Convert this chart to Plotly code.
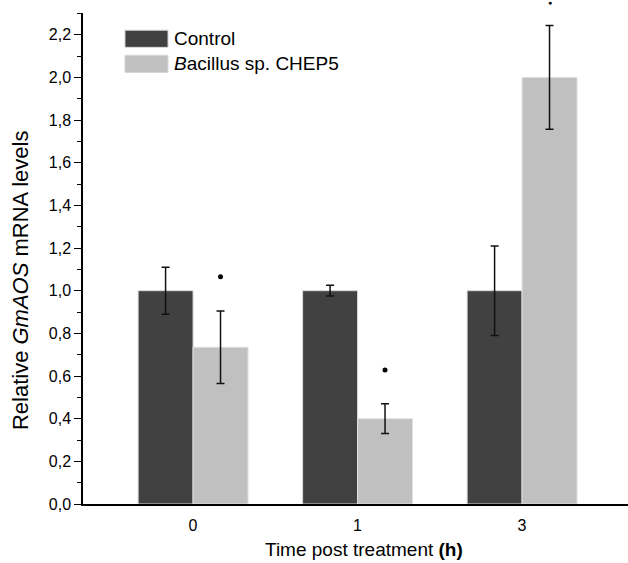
import plotly.graph_objects as go

categories = ["0", "1", "3"]
control = [1.0, 1.0, 1.0]
control_err = [0.11, 0.025, 0.21]
bacillus = [0.735, 0.40, 2.0]
bacillus_err = [0.17, 0.07, 0.243]
sig_y = [1.066, 0.628, 2.353]
y_ticks = [0.0, 0.2, 0.4, 0.6, 0.8, 1.0, 1.2, 1.4, 1.6, 1.8, 2.0, 2.2]
y_tick_labels = [f"{v:.1f}".replace(".", ",") for v in y_ticks]

Y_MAX = 2.302
BW = 0.334
xs = list(range(len(categories)))
FONT = "Arial, Liberation Sans, sans-serif"

fig = go.Figure()
fig.add_trace(go.Bar(
    x=xs, y=control, width=BW, offset=-BW, name="Control",
    marker=dict(color="#414141", line=dict(color="#d8d8d8", width=1)),
    error_y=dict(type="data", array=control_err, color="#111111", thickness=1.5, width=4),
    showlegend=False,
))
fig.add_trace(go.Bar(
    x=xs, y=bacillus, width=BW, offset=0, name="Bacillus sp. CHEP5",
    marker=dict(color="#c0c0c0", line=dict(color="#e0e0e0", width=1)),
    error_y=dict(type="data", array=bacillus_err, color="#111111", thickness=1.5, width=4),
    showlegend=False,
))
# significance dots above the Bacillus bars
in_x = [x + BW / 2 for x, v in zip(xs, sig_y) if v <= Y_MAX]
in_y = [v for v in sig_y if v <= Y_MAX]
fig.add_trace(go.Scatter(
    x=in_x, y=in_y, mode="markers",
    marker=dict(color="black", size=5), cliponaxis=False, showlegend=False,
))
for x, v in zip(xs, sig_y):
    if v > Y_MAX:  # beyond the axis top: plotly hides such scatter points
        fig.add_annotation(x=x + BW / 2, xref="x", y=v / Y_MAX, yref="y domain",
                           text="●", showarrow=False, xanchor="center", yanchor="middle",
                           font=dict(size=7, color="black"))

# legend drawn manually (large swatches as in reference)
legend_items = [("Control", "#414141"), ("<i>B</i>acillus sp. CHEP5", "#c0c0c0")]
for i, (label, col) in enumerate(legend_items):
    y1 = 0.965 - i * 0.051
    fig.add_shape(type="rect", xref="paper", yref="paper",
                  x0=0.077, x1=0.156, y0=y1 - 0.035, y1=y1,
                  fillcolor=col, line=dict(color="#d8d8d8", width=1))
    fig.add_annotation(xref="paper", yref="paper", x=0.163, y=y1 - 0.0175,
                       text=label, showarrow=False, xanchor="left", yanchor="middle",
                       font=dict(family=FONT, size=19, color="black"))

# axis titles as annotations for exact placement
fig.add_annotation(xref="paper", yref="paper", x=-0.1156, y=0.456, textangle=-90,
                   text="Relative <i>GmAOS</i> mRNA levels", showarrow=False,
                   xanchor="center", yanchor="middle",
                   font=dict(family=FONT, size=22, color="black"))
fig.add_annotation(xref="paper", yref="paper", x=0.5156, y=-0.0917,
                   text="Time post treatment <b>(h)</b>", showarrow=False,
                   xanchor="center", yanchor="middle",
                   font=dict(family=FONT, size=19, color="black"))

fig.update_layout(
    width=628, height=563,
    margin=dict(l=83, r=0, t=13, b=59),
    paper_bgcolor="white", plot_bgcolor="white",
    barmode="overlay",
    font=dict(family=FONT, color="black"),
    xaxis=dict(
        range=[-0.669, 2.644], tickvals=xs, ticktext=categories,
        showline=True, linecolor="black", linewidth=1.5,
        ticks="", showgrid=False, zeroline=False,
        tickfont=dict(size=16, family=FONT),
        ticklabelstandoff=6,
    ),
    yaxis=dict(
        range=[0, Y_MAX], tickvals=y_ticks, ticktext=y_tick_labels,
        showline=True, linecolor="black", linewidth=1.5,
        ticks="outside", ticklen=7, tickwidth=1.2, tickcolor="black",
        minor=dict(ticks="outside", ticklen=4, dtick=0.1, tickwidth=1.2, tickcolor="black"),
        showgrid=False, zeroline=False,
        tickfont=dict(size=16, family=FONT),
    ),
)

fig.write_html("out.html", config={"displayModeBar": False},
               post_script="document.body.style.margin='0px';")
